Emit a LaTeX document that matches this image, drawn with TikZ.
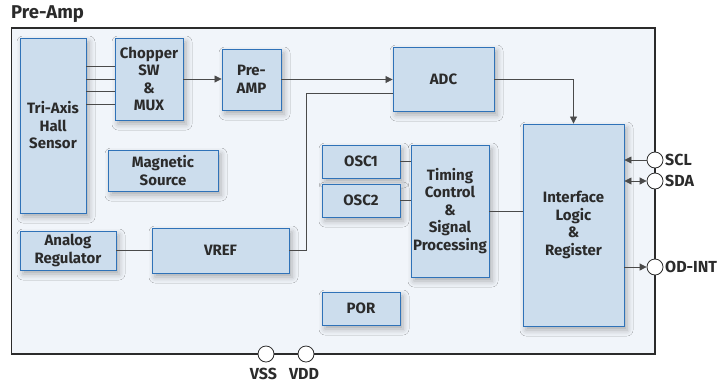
\documentclass[tikz,border=0pt]{standalone}
\usepackage{fontspec}
\setmainfont{Fira Sans}
\usetikzlibrary{arrows.meta,shadows.blur}
\definecolor{bgc}{HTML}{F1F5FA}
\definecolor{boxf}{HTML}{CCDDED}
\definecolor{boxd}{HTML}{2F72B8}
\definecolor{txt}{HTML}{2B2B2B}
\definecolor{ln}{HTML}{4A4A4A}
\tikzset{
  blk/.style={draw=boxd, fill=boxf, line width=0.9pt, align=center, inner sep=1pt,
    font=\fontsize{15}{17.5}\selectfont\bfseries, text=txt,
    blur shadow={shadow xshift=3pt, shadow yshift=-4pt, shadow blur radius=6pt, shadow opacity=30}},
  conn/.style={draw=ln, line width=0.8pt},
  arr/.style={conn, -{Triangle[length=7pt,width=7pt]}},
  pin/.style={circle, draw=txt, fill=white, line width=0.8pt, minimum size=16pt, inner sep=0pt},
  plab/.style={font=\fontsize{16}{18}\selectfont\bfseries, text=txt, inner sep=0pt}
}
\begin{document}
\begin{tikzpicture}[x=1pt,y=-1pt]
\useasboundingbox (0,0) rectangle (722,384);
% title
\node[font=\fontsize{18.5}{20}\selectfont\bfseries, text=txt, anchor=base west, inner sep=0pt] (title) at (11,18.5) {Pre-Amp};
% outer frame
\draw[draw=txt, fill=bgc, line width=1.6pt] (11.5,28) rectangle (655,354);
% blocks
\node[blk, minimum width=66pt, minimum height=175pt] (hall) at (53,125.5) {Tri-Axis\\Hall\\Sensor};
\node[blk, minimum width=68pt, minimum height=82pt] (chop) at (149,79) {Chopper\\SW\\\&\\MUX};
\node[blk, minimum width=59pt, minimum height=61pt] (pre) at (251.5,79.5) {Pre-\\AMP};
\node[blk, minimum width=101pt, minimum height=64pt] (adc) at (443.5,79) {ADC};
\node[blk, minimum width=110pt, minimum height=41pt] (mag) at (163,170.5) {Magnetic\\Source};
\node[blk, minimum width=78pt, minimum height=33pt] (osc1) at (361,161.5) {OSC1};
\node[blk, minimum width=78pt, minimum height=33pt] (osc2) at (361,200.5) {OSC2};
\node[blk, minimum width=78pt, minimum height=132pt] (tim) at (450,211) {Timing\\Control\\\&\\Signal\\Processing};
\node[blk, minimum width=101pt, minimum height=202pt] (intf) at (573.5,225) {Interface\\Logic\\\&\\Register};
\node[blk, minimum width=96pt, minimum height=39pt] (areg) at (68,250.5) {Analog\\Regulator};
\node[blk, minimum width=137pt, minimum height=45pt] (vref) at (220.5,250.5) {VREF};
\node[blk, minimum width=78pt, minimum height=33pt] (por) at (361,308.5) {POR};
% connectors hall -> chopper
\path ([yshift=13pt]chop.west) coordinate (c1)
      (chop.west) coordinate (c2)
      ([yshift=-12pt]chop.west) coordinate (c3)
      ([yshift=-25pt]chop.west) coordinate (c4);
\foreach \c in {c1,c2,c3,c4} \draw[conn] (hall.east |- \c) -- (\c);
\draw[arr] (chop.east) -- (chop.east -| pre.west);
\draw[arr] (pre.east) -- (pre.east -| adc.west);
\draw[arr] (adc.east) -| (intf.north);
\path ([yshift=-14pt]adc.west) coordinate (adcin);
\draw[conn] (vref.east) -- ++(17,0) |- (adcin);
\draw[conn] (areg.east) -- (areg.east -| vref.west);
\draw[conn] (osc1.east) -- (osc1.east -| tim.west);
\draw[conn] (osc2.east) -- (osc2.east -| tim.west);
\draw[conn] (tim.east) -- (tim.east -| intf.west);
% pins
\node[pin] (scl) at (655,160) {};
\node[pin] (sda) at (655,181) {};
\node[pin] (odint) at (655,267) {};
\node[pin] (vss) at (266,354) {};
\node[pin] (vdd) at (306,354) {};
\draw[arr] (scl.west) -- (scl.west -| intf.east);
\draw[conn, {Triangle[length=7pt,width=7pt]}-{Triangle[length=7pt,width=7pt]}] (sda.west) -- (sda.west -| intf.east);
\draw[arr] (intf.east |- odint.west) -- (odint.west);
\node[plab, anchor=west] (scll) at (665,160) {SCL};
\node[plab, anchor=west] (sdal) at (665,181) {SDA};
\node[plab, anchor=west] (odl) at (665,267) {OD-INT};
\node[plab, anchor=base] (vssl) at (263.5,379.5) {VSS};
\node[plab, anchor=base] (vddl) at (304,379.5) {VDD};
\end{tikzpicture}
\end{document}
